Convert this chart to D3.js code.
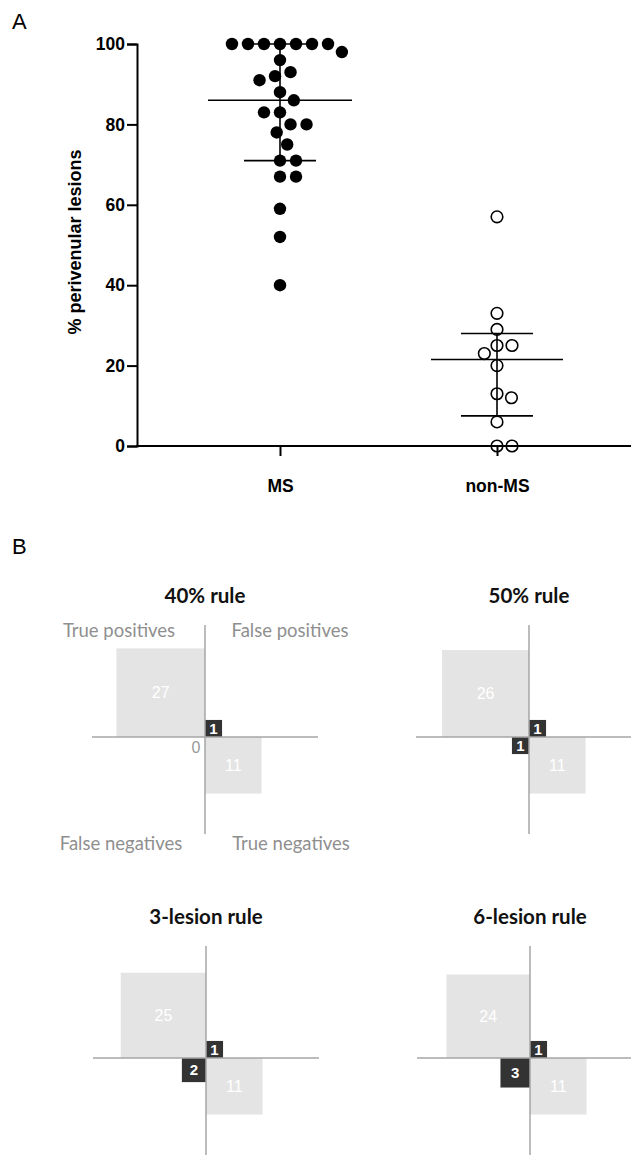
<!DOCTYPE html>
<html>
<head>
<meta charset="utf-8">
<script src="https://cdn.jsdelivr.net/npm/d3@7"></script>
<style>
  body { margin: 0; background: #fff; }
  svg { display: block; }
  .tick text { font-family: "Liberation Sans", Arial, sans-serif; font-weight: bold; font-size: 17.5px; fill: #000; }
</style>
</head>
<body>
<svg id="chart" width="631" height="1155"></svg>
<script>
// panel A data
var categories = ["MS", "non-MS"];
var msValues = [100, 100, 100, 100, 100, 100, 100, 98, 96, 93, 92, 91, 88, 86, 83, 83,
  80, 80, 78, 75, 71, 71, 67, 67, 59, 52, 40];
var nonMsValues = [57, 33, 29, 25, 25, 23, 20, 13, 12, 6, 0, 0];
var medians = [86, 21.5];
var lowerQuartiles = [71, 7.5];
var upperQuartiles = [100, 28];
var yTicks = [0, 20, 40, 60, 80, 100];

// panel B data
var ruleNames = ["40% rule", "50% rule", "3-lesion rule", "6-lesion rule"];
var truePositives = [27, 26, 25, 24];
var falsePositives = [1, 1, 1, 1];
var falseNegatives = [0, 1, 2, 3];
var trueNegatives = [11, 11, 11, 11];
var quadrantNames = ["True positives", "False positives", "False negatives", "True negatives"];

var svg = d3.select("#chart");

/* Panel A */
var y = d3.scaleLinear().domain([0, 100]).range([446, 44]);
var x = d3.scalePoint().domain(categories).range([280, 497]);

svg.append("text").attr("x", 12).attr("y", 29)
  .style("font-family", "Liberation Sans, Arial, sans-serif").style("font-size", "22px")
  .text("A");

// y axis
var yAxis = d3.axisLeft(y).tickValues(yTicks).tickSize(10).tickPadding(2);
var gy = svg.append("g").attr("transform", "translate(137,0)").call(yAxis);
gy.selectAll("path, line").attr("stroke", "#000").attr("stroke-width", 2);

// x axis
svg.append("line").attr("x1", 136).attr("x2", 631).attr("y1", y(0)).attr("y2", y(0))
  .attr("stroke", "#000").attr("stroke-width", 2);
var xAxis = d3.axisBottom(x).tickSize(10).tickPadding(24);
var gx = svg.append("g").attr("transform", "translate(0," + y(0) + ")").call(xAxis);
gx.select(".domain").remove();
gx.selectAll("line").attr("stroke", "#000").attr("stroke-width", 2);

svg.append("text")
  .attr("transform", "translate(81," + (y(50) - 3) + ") rotate(-90)")
  .attr("text-anchor", "middle")
  .style("font-family", "Liberation Sans, Arial, sans-serif").style("font-weight", "bold")
  .style("font-size", "18px")
  .text("% perivenular lesions");

// simple beeswarm: place each point at smallest offset that does not overlap
function swarm(values, spacing) {
  var placed = [];
  values.slice().sort(function (a, b) { return b - a; }).forEach(function (v) {
    var py = y(v);
    var cands = [0];
    placed.forEach(function (p) {
      var dy = Math.abs(p.y - py);
      if (dy < spacing) {
        var dx = Math.sqrt(spacing * spacing - dy * dy) + 0.01;
        cands.push(p.dx + dx, p.dx - dx);
      }
    });
    cands.sort(function (a, b) { return Math.abs(a) - Math.abs(b) || b - a; });
    var best = cands.find(function (c) {
      return placed.every(function (p) {
        var ddx = p.dx - c, ddy = p.y - py;
        return ddx * ddx + ddy * ddy >= spacing * spacing - 0.001;
      });
    });
    placed.push({ v: v, y: py, dx: best });
  });
  return placed;
}

var msPts = swarm(msValues, 16);
svg.append("g").selectAll("circle").data(msPts).enter().append("circle")
  .attr("cx", function (d) { return x("MS") + d.dx; })
  .attr("cy", function (d) { return d.y; })
  .attr("r", 6.2)
  .attr("fill", "#000");

var nonPts = swarm(nonMsValues, 15);
svg.append("g").selectAll("circle").data(nonPts).enter().append("circle")
  .attr("cx", function (d) { return x("non-MS") + d.dx; })
  .attr("cy", function (d) { return d.y; })
  .attr("r", 5.8)
  .attr("fill", "none")
  .attr("stroke", "#000")
  .attr("stroke-width", 1.6);

// median and interquartile range
var summary = svg.append("g").attr("stroke", "#000").attr("stroke-width", 1.6);
categories.forEach(function (c, i) {
  var cx = x(c);
  var half = i === 0 ? 72 : 66;
  summary.append("line").attr("x1", cx - half).attr("x2", cx + half)
    .attr("y1", y(medians[i])).attr("y2", y(medians[i]));
  [lowerQuartiles[i], upperQuartiles[i]].forEach(function (q) {
    summary.append("line").attr("x1", cx - 36).attr("x2", cx + 36)
      .attr("y1", y(q)).attr("y2", y(q));
  });
  summary.append("line").attr("x1", cx).attr("x2", cx)
    .attr("y1", y(lowerQuartiles[i])).attr("y2", y(upperQuartiles[i]));
});

/* Panel B */
svg.append("text").attr("x", 12).attr("y", 554)
  .style("font-family", "Liberation Sans, Arial, sans-serif").style("font-size", "22px")
  .text("B");

var side = d3.scaleSqrt().domain([0, 27]).range([0, 17.05 * Math.sqrt(27)]);
var centers = [[205, 737], [529, 737], [206, 1058], [530, 1058]];
var lightFill = "#e4e4e4", darkFill = "#333", axisGrey = "#a6a6a6";
var fontB = "Lato, 'Open Sans', sans-serif";

ruleNames.forEach(function (name, i) {
  var g = svg.append("g").attr("transform", "translate(" + centers[i][0] + "," + centers[i][1] + ")");

  g.append("text").attr("x", 0).attr("y", -134)
    .attr("text-anchor", "middle")
    .style("font-family", fontB).style("font-weight", "bold").style("font-size", "20.5px")
    .attr("fill", "#111")
    .text(name);

  // quadrant cells: tp top-left, fp top-right, fn bottom-left, tn bottom-right
  var cells = [
    { n: truePositives[i], sx: -1, sy: -1, dark: false },
    { n: falsePositives[i], sx: 1, sy: -1, dark: true },
    { n: falseNegatives[i], sx: -1, sy: 1, dark: true },
    { n: trueNegatives[i], sx: 1, sy: 1, dark: false }
  ];
  cells.forEach(function (c) {
    var s = side(c.n);
    if (c.n === 0) {
      g.append("text").attr("x", -9).attr("y", 16).attr("text-anchor", "middle")
        .style("font-family", "Liberation Sans, Arial, sans-serif").style("font-size", "16px")
        .attr("fill", "#999")
        .text("0");
      return;
    }
    g.append("rect")
      .attr("x", c.sx < 0 ? -s : 0).attr("y", c.sy < 0 ? -s : 0)
      .attr("width", s).attr("height", s)
      .attr("fill", c.dark ? darkFill : lightFill);
    g.append("text")
      .attr("x", c.sx * s / 2).attr("y", c.sy * s / 2)
      .attr("dy", "0.36em")
      .attr("text-anchor", "middle")
      .style("font-family", "Liberation Sans, Arial, sans-serif")
      .style("font-size", c.dark ? "15px" : "16px")
      .style("font-weight", c.dark ? "bold" : "normal")
      .attr("fill", "#fff")
      .text(c.n);
  });

  g.append("line").attr("x1", -113).attr("x2", 113).attr("y1", 0).attr("y2", 0)
    .attr("stroke", axisGrey).attr("stroke-width", 1.5);
  g.append("line").attr("x1", 0).attr("x2", 0).attr("y1", -112).attr("y2", 97)
    .attr("stroke", axisGrey).attr("stroke-width", 1.5);

  if (i === 0) {
    var pos = [[-86, -100], [85, -100], [-84, 113], [86, 113]];
    quadrantNames.forEach(function (q, k) {
      g.append("text").attr("x", pos[k][0]).attr("y", pos[k][1])
        .attr("text-anchor", "middle")
        .style("font-family", fontB).style("font-size", "18.5px")
        .attr("fill", "#8f8f8f")
        .text(q);
    });
  }
});
</script>
</body>
</html>
